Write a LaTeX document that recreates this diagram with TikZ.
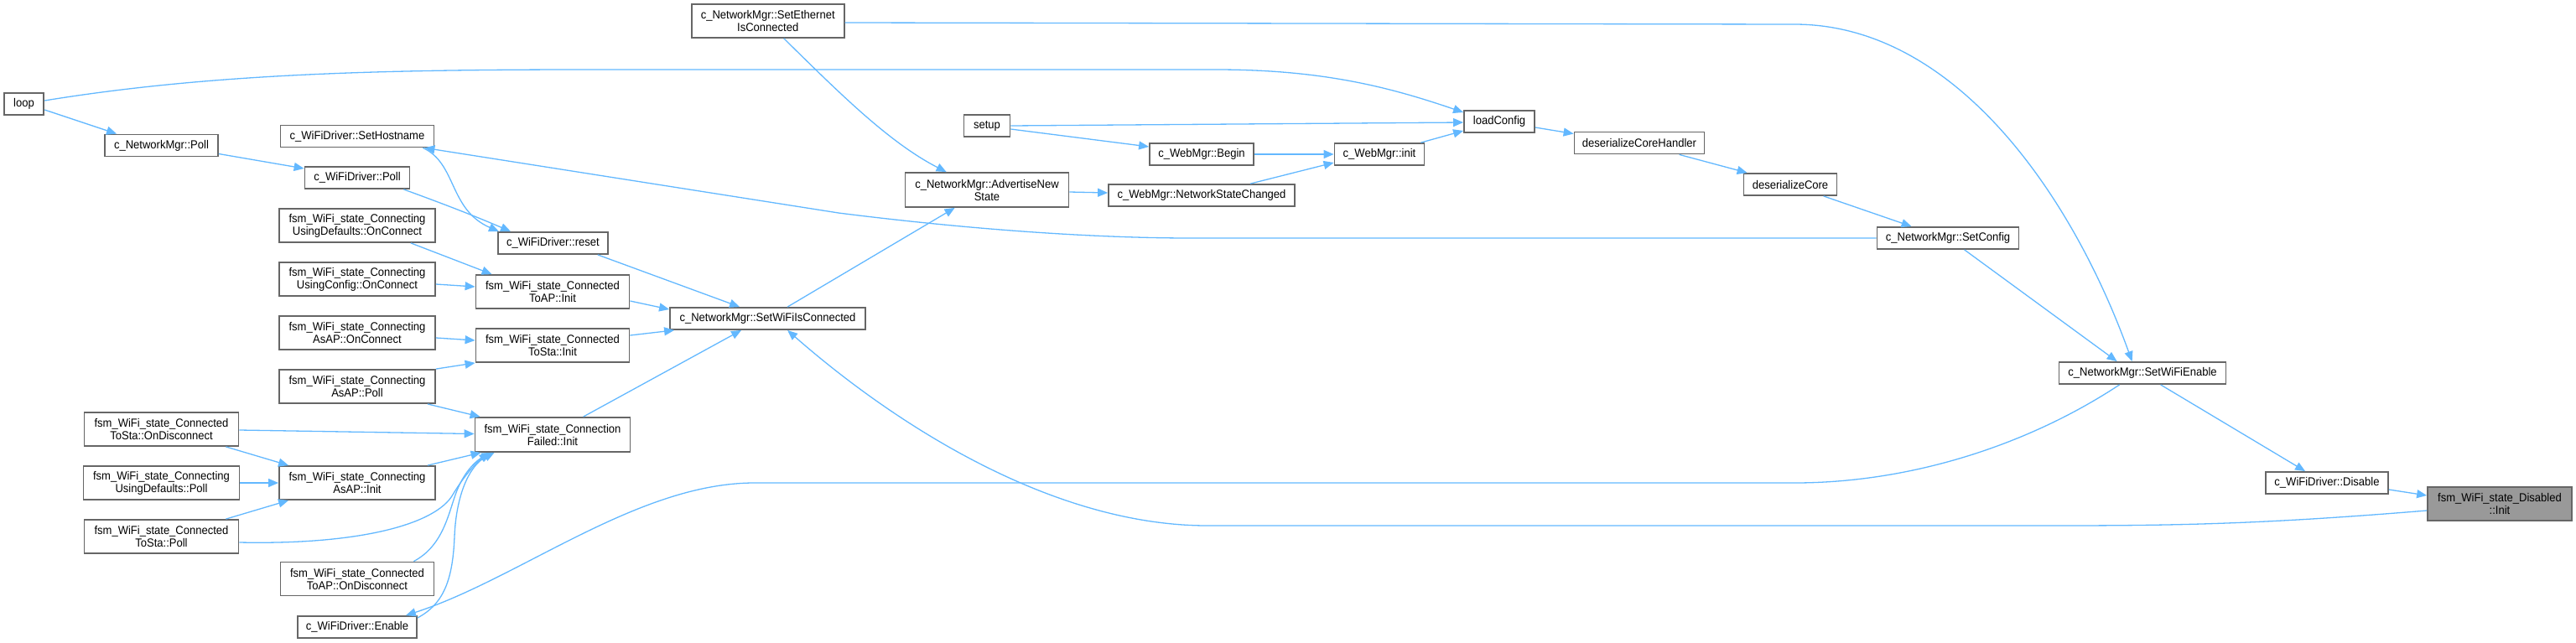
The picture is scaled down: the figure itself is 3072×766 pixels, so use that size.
\documentclass[tikz,border=0pt]{standalone}
\usepackage{fontspec}
\setmainfont{Liberation Sans}[FakeStretch=0.93]
\usetikzlibrary{arrows.meta,calc}
\definecolor{edgeblue}{HTML}{63B8FF}
\definecolor{boxgray}{HTML}{666666}
\definecolor{focusgray}{HTML}{999999}
\tikzset{
  box/.style={draw=boxgray, line width=0.9pt, fill=white, inner sep=0pt, align=center,
    font=\fontsize{7pt}{7.5pt}\selectfont, text=black},
  wh/.style 2 args={minimum width=#1*0.5pt, minimum height=#2*0.5pt},
  conn/.style={draw=edgeblue, line width=0.65pt, -{Triangle[length=6pt,width=5pt]}}
}
\begin{document}
\begin{tikzpicture}[x=0.5pt,y=-0.5pt]
\useasboundingbox (0,0) rectangle (3072,766);
% nodes
\node[box,wh={47.6}{26}] (loop) at (28.5,124) {loop};
\node[box,wh={135}{26}] (nmpoll) at (192.5,173.5) {c\_NetworkMgr::Poll};
\node[box,wh={183}{26}] (sethost) at (426,162.5) {c\_WiFiDriver::SetHostname};
\node[box,wh={125}{26}] (wdpoll) at (426,212) {c\_WiFiDriver::Poll};
\node[box,wh={186}{40}] (udoc) at (426,269) {fsm\_WiFi\_state\_Connecting\\UsingDefaults::OnConnect};
\node[box,wh={186}{40}] (ucoc) at (426,333) {fsm\_WiFi\_state\_Connecting\\UsingConfig::OnConnect};
\node[box,wh={186}{40}] (apoc) at (426,397) {fsm\_WiFi\_state\_Connecting\\AsAP::OnConnect};
\node[box,wh={186}{40}] (appoll) at (426,461) {fsm\_WiFi\_state\_Connecting\\AsAP::Poll};
\node[box,wh={184}{40}] (stadis) at (192.5,512) {fsm\_WiFi\_state\_Connected\\ToSta::OnDisconnect};
\node[box,wh={186}{40}] (udpoll) at (192.5,576) {fsm\_WiFi\_state\_Connecting\\UsingDefaults::Poll};
\node[box,wh={184}{40}] (stapoll) at (192.5,640) {fsm\_WiFi\_state\_Connected\\ToSta::Poll};
\node[box,wh={186}{40}] (apinit) at (426,576) {fsm\_WiFi\_state\_Connecting\\AsAP::Init};
\node[box,wh={183}{40}] (apdis) at (426,690.5) {fsm\_WiFi\_state\_Connected\\ToAP::OnDisconnect};
\node[box,wh={142}{26}] (enable) at (426,748) {c\_WiFiDriver::Enable};
\node[box,wh={131}{26}] (reset) at (659.4,290) {c\_WiFiDriver::reset};
\node[box,wh={183}{40}] (apinitok) at (659,348) {fsm\_WiFi\_state\_Connected\\ToAP::Init};
\node[box,wh={183}{40}] (stainit) at (659,412) {fsm\_WiFi\_state\_Connected\\ToSta::Init};
\node[box,wh={185}{41}] (failinit) at (659,518.5) {fsm\_WiFi\_state\_Connection\\Failed::Init};
\node[box,wh={233}{26}] (setwific) at (915.5,380) {c\_NetworkMgr::SetWiFiIsConnected};
\node[box,wh={182}{40}] (seteth) at (915.7,25) {c\_NetworkMgr::SetEthernet\\IsConnected};
\node[box,wh={195}{41}] (adv) at (1177,226.5) {c\_NetworkMgr::AdvertiseNew\\State};
\node[box,wh={55}{26}] (setup) at (1177,150) {setup};
\node[box,wh={124}{26}] (begin) at (1433,184) {c\_WebMgr::Begin};
\node[box,wh={222}{26}] (nsc) at (1433,233) {c\_WebMgr::NetworkStateChanged};
\node[box,wh={107}{26}] (winit) at (1645,184) {c\_WebMgr::init};
\node[box,wh={84}{26}] (loadcfg) at (1788,145) {loadConfig};
\node[box,wh={155}{26}] (dch) at (1955,170.5) {deserializeCoreHandler};
\node[box,wh={111}{26}] (dc) at (2135,220) {deserializeCore};
\node[box,wh={169}{26}] (setcfg) at (2323,284) {c\_NetworkMgr::SetConfig};
\node[box,wh={199}{26}] (setwen) at (2555,445) {c\_NetworkMgr::SetWiFiEnable};
\node[box,wh={146}{26}] (disable) at (2775,576) {c\_WiFiDriver::Disable};
\node[box,wh={172}{40},fill=focusgray] (disinit) at (2981,601) {fsm\_WiFi\_state\_Disabled\\::Init};
% connectors
\draw[conn] ($(loop.east)+(0,7)$) -- ($(nmpoll.north west)+(15,0)$);
\draw[conn] ($(loop.east)+(0,-4)$) .. controls (250,88) and (450,83) .. (700,83) -- (1450,83) .. controls (1580,83) and (1660,105) .. ($(loadcfg.west)+(0,-11)$);
\draw[conn] ($(nmpoll.east)+(0,10)$) -- ($(wdpoll.west)+(0,-11)$);
\draw[conn] ($(wdpoll.south east)+(-8,0)$) .. controls (520,240) and (560,255) .. ($(reset.north west)+(16,0)$);
\draw[conn] ($(sethost.south east)+(-14,0)$) .. controls (545,195) and (535,250) .. ($(reset.north west)+(2,0)$);
\draw[conn] (setcfg.west) -- (1420,284) .. controls (1300,284) and (1150,273) .. (1000,254) -- ($(sethost.south east)+(-12,0)$);
\draw[conn] ($(reset.south east)+(-13,0)$) -- ($(setwific.north west)+(84,0)$);
\draw[conn] ($(apinitok.east)+(0,11)$) -- ($(setwific.west)+(0,-11)$);
\draw[conn] ($(stainit.east)+(0,-12)$) -- ($(setwific.south west)+(6,0)$);
\draw[conn] ($(failinit.north west)+(130,0)$) -- ($(setwific.south west)+(86,0)$);
\draw[conn] ($(disinit.west)+(0,8)$) .. controls (2700,625) and (2600,627) .. (2450,627) -- (1440,627) .. controls (1250,627) and (1060,500) .. ($(setwific.south west)+(141,0)$);
\draw[conn] ($(setwific.north west)+(141,0)$) -- ($(adv.south west)+(60,0)$);
\draw[conn] ($(seteth.south west)+(111,0)$) .. controls (1000,110) and (1060,170) .. ($(adv.north west)+(50,0)$);
\draw[conn] ($(seteth.east)+(0,2)$) -- (2140,29) .. controls (2330,29) and (2470,230) .. ($(setwen.north west)+(88,0)$);
\draw[conn] ($(setcfg.south west)+(105,0)$) -- ($(setwen.north west)+(70,0)$);
\draw[conn] ($(adv.east)+(0,2.5)$) -- ($(nsc.west)+(0,-3)$);
\draw[conn] (setup.east) -- ($(loadcfg.west)+(0,1)$);
\draw[conn] ($(setup.east)+(0,4)$) -- ($(begin.west)+(0,-9)$);
\draw[conn] (begin.east) -- (winit.west);
\draw[conn] ($(nsc.north west)+(170,0)$) -- ($(winit.west)+(0,10)$);
\draw[conn] ($(winit.north east)+(-5,0)$) -- ($(loadcfg.west)+(0,11)$);
\draw[conn] ($(loadcfg.east)+(0,7)$) -- ($(dch.west)+(0,-11)$);
\draw[conn] ($(dch.south west)+(126,0)$) -- ($(dc.north west)+(5,0)$);
\draw[conn] ($(dc.south west)+(96,0)$) -- ($(setcfg.north west)+(42,0)$);
\draw[conn] ($(setwen.south west)+(122,0)$) -- ($(disable.north west)+(48,0)$);
\draw[conn] ($(setwen.south west)+(73,0)$) .. controls (2420,530) and (2280,576) .. (2140,576) -- (900,576) .. controls (760,576) and (620,690) .. ($(enable.north east)+(-14,0)$);
\draw[conn] ($(enable.east)+(0,-11)$) .. controls (530,720) and (540,690) .. (542,640) .. controls (544,590) and (560,555) .. ($(failinit.south west)+(24,0)$);
\draw[conn] ($(stadis.east)+(0,1)$) -- ($(failinit.west)+(0,-1)$);
\draw[conn] ($(appoll.south east)+(-10,0)$) -- ($(failinit.north west)+(7,0)$);
\draw[conn] ($(apinit.north east)+(-10,0)$) -- ($(failinit.south west)+(8,0)$);
\draw[conn] ($(stadis.south east)+(-16,0)$) -- ($(apinit.north west)+(12,0)$);
\draw[conn] (udpoll.east) -- (apinit.west);
\draw[conn] ($(stapoll.north east)+(-16,0)$) -- ($(apinit.south west)+(12,0)$);
\draw[conn] ($(apoc.east)+(0,6)$) -- ($(stainit.west)+(0,-6)$);
\draw[conn] (appoll.north east) -- (stainit.south west);
\draw[conn] ($(udoc.south east)+(-30,0)$) -- ($(apinitok.north west)+(20,0)$);
\draw[conn] ($(ucoc.east)+(0,6)$) -- ($(apinitok.west)+(0,-6)$);
\draw[conn] ($(disable.east)+(0,8)$) -- ($(disinit.west)+(0,-10)$);
\draw[conn] ($(stapoll.east)+(0,7)$) .. controls (430,650) and (520,625) .. (540,590) .. controls (555,565) and (570,550) .. ($(failinit.south west)+(18,0)$);
\draw[conn] ($(apdis.north east)+(-25,0)$) .. controls (530,650) and (535,610) .. (545,585) .. controls (555,560) and (570,548) .. ($(failinit.south west)+(21,0)$);
\end{tikzpicture}
\end{document}
